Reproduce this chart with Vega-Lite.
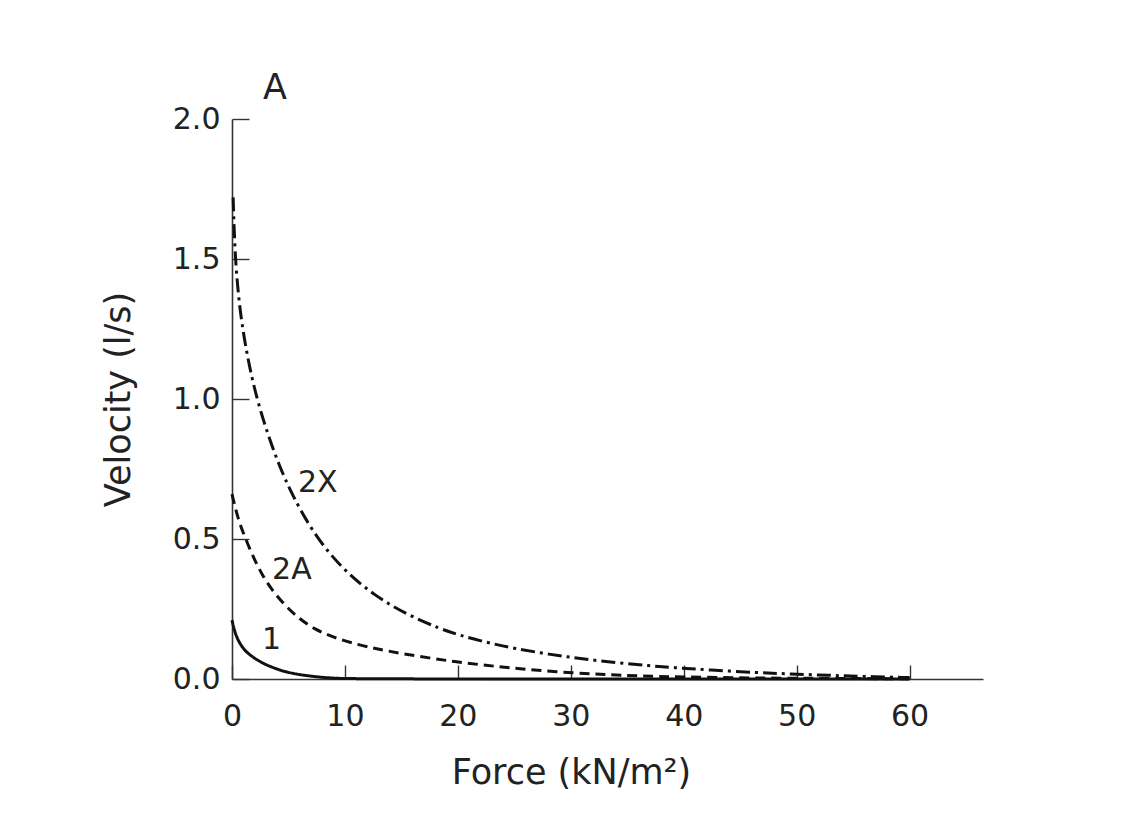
{
  "$schema": "https://vega.github.io/schema/vega-lite/v6.json",
  "autosize": {"type": "none"},
  "padding": {"left": 232, "top": 119, "right": 145, "bottom": 157},
  "width": 751,
  "height": 560,
  "background": "white",
  "config": {
    "view": {"stroke": null},
    "font": "DejaVu Sans",
    "axis": {"grid": false, "domainColor": "#333333", "domainWidth": 1.6, "tickColor": "#333333", "tickWidth": 1.4, "labelColor": "#222222", "titleColor": "#222222", "labelFont": "DejaVu Sans", "titleFont": "DejaVu Sans", "labelFontWeight": "normal", "titleFontWeight": "normal"}
  },
  "layer": [
    {
      "data": {"values": [
        {"series": "1", "x": 0, "v": 0.21}, {"series": "1", "x": 0.2, "v": 0.175}, {"series": "1", "x": 0.5, "v": 0.14}, {"series": "1", "x": 1, "v": 0.108}, {"series": "1", "x": 1.5, "v": 0.088}, {"series": "1", "x": 2.3, "v": 0.066}, {"series": "1", "x": 3, "v": 0.051}, {"series": "1", "x": 4, "v": 0.035}, {"series": "1", "x": 4.7, "v": 0.026}, {"series": "1", "x": 6, "v": 0.015}, {"series": "1", "x": 7.6, "v": 0.007}, {"series": "1", "x": 9, "v": 0.003}, {"series": "1", "x": 10, "v": 0.001}, {"series": "1", "x": 20, "v": 0}, {"series": "1", "x": 30, "v": 0}, {"series": "1", "x": 40, "v": 0}, {"series": "1", "x": 50, "v": 0}, {"series": "1", "x": 60, "v": 0},
        {"series": "2A", "x": 0, "v": 0.66}, {"series": "2A", "x": 0.3, "v": 0.61}, {"series": "2A", "x": 0.6, "v": 0.565}, {"series": "2A", "x": 1.2, "v": 0.5}, {"series": "2A", "x": 2, "v": 0.425}, {"series": "2A", "x": 2.7, "v": 0.37}, {"series": "2A", "x": 3.5, "v": 0.32}, {"series": "2A", "x": 4.7, "v": 0.262}, {"series": "2A", "x": 6, "v": 0.214}, {"series": "2A", "x": 7.3, "v": 0.178}, {"series": "2A", "x": 9, "v": 0.148}, {"series": "2A", "x": 11.2, "v": 0.122}, {"series": "2A", "x": 13, "v": 0.106}, {"series": "2A", "x": 15, "v": 0.091}, {"series": "2A", "x": 17.5, "v": 0.075}, {"series": "2A", "x": 19.7, "v": 0.062}, {"series": "2A", "x": 22, "v": 0.051}, {"series": "2A", "x": 24.3, "v": 0.041}, {"series": "2A", "x": 27, "v": 0.031}, {"series": "2A", "x": 30.2, "v": 0.022}, {"series": "2A", "x": 33, "v": 0.016}, {"series": "2A", "x": 36, "v": 0.011}, {"series": "2A", "x": 40, "v": 0.007}, {"series": "2A", "x": 45, "v": 0.004}, {"series": "2A", "x": 50, "v": 0.0025}, {"series": "2A", "x": 55, "v": 0.0015}, {"series": "2A", "x": 60, "v": 0.001},
        {"series": "2X", "x": 0.1, "v": 1.72}, {"series": "2X", "x": 0.27, "v": 1.5}, {"series": "2X", "x": 0.7, "v": 1.31}, {"series": "2X", "x": 1.4, "v": 1.14}, {"series": "2X", "x": 2.2, "v": 1.0}, {"series": "2X", "x": 3.2, "v": 0.87}, {"series": "2X", "x": 4.2, "v": 0.76}, {"series": "2X", "x": 5.3, "v": 0.66}, {"series": "2X", "x": 7.2, "v": 0.52}, {"series": "2X", "x": 9.7, "v": 0.395}, {"series": "2X", "x": 12.7, "v": 0.295}, {"series": "2X", "x": 15.6, "v": 0.228}, {"series": "2X", "x": 18.4, "v": 0.18}, {"series": "2X", "x": 20, "v": 0.158}, {"series": "2X", "x": 22.6, "v": 0.13}, {"series": "2X", "x": 25, "v": 0.109}, {"series": "2X", "x": 28.1, "v": 0.088}, {"series": "2X", "x": 31, "v": 0.072}, {"series": "2X", "x": 34.1, "v": 0.058}, {"series": "2X", "x": 37, "v": 0.047}, {"series": "2X", "x": 39, "v": 0.041}, {"series": "2X", "x": 42.3, "v": 0.032}, {"series": "2X", "x": 46.5, "v": 0.023}, {"series": "2X", "x": 49.4, "v": 0.018}, {"series": "2X", "x": 53, "v": 0.013}, {"series": "2X", "x": 56, "v": 0.009}, {"series": "2X", "x": 60, "v": 0.005}
      ]},
      "mark": {"type": "line", "color": "#111111", "strokeWidth": 3, "interpolate": "basis", "clip": false},
      "encoding": {
        "x": {"field": "x", "type": "quantitative", "scale": {"domain": [0, 66.5], "nice": false, "zero": false},
          "axis": {"values": [0, 10, 20, 30, 40, 50, 60], "tickSize": -14, "labelPadding": 36, "labelFontSize": 30, "title": "Force (kN/m²)", "titleFontSize": 35, "titlePadding": 24, "titleX": 339, "labelFlush": false}},
        "y": {"field": "v", "type": "quantitative", "scale": {"domain": [0, 2], "nice": false},
          "axis": {"values": [0, 0.5, 1, 1.5, 2], "format": ".1f", "tickSize": -17, "labelPadding": 29, "labelFontSize": 30, "title": "Velocity (l/s)", "titleFontSize": 35, "titlePadding": 36}},
        "strokeDash": {"field": "series", "type": "nominal", "scale": {"domain": ["1", "2A", "2X"], "range": [[1, 0], [10, 6], [14, 5, 3, 5]]}, "legend": null},
        "detail": {"field": "series"}
      }
    },
    {
      "data": {"values": [
        {"label": "2X", "x": 7.6, "v": 0.7},
        {"label": "2A", "x": 5.3, "v": 0.39},
        {"label": "1", "x": 3.5, "v": 0.14}
      ]},
      "mark": {"type": "text", "fontSize": 30, "font": "DejaVu Sans", "color": "#222222", "align": "center", "baseline": "middle", "clip": false},
      "encoding": {
        "x": {"field": "x", "type": "quantitative"},
        "y": {"field": "v", "type": "quantitative"},
        "text": {"field": "label"}
      }
    },
    {
      "data": {"values": [{"label": "A", "x": 3.8, "v": 2.11}]},
      "mark": {"type": "text", "fontSize": 35, "font": "DejaVu Sans", "color": "#222222", "align": "center", "baseline": "middle", "clip": false},
      "encoding": {
        "x": {"field": "x", "type": "quantitative"},
        "y": {"field": "v", "type": "quantitative"},
        "text": {"field": "label"}
      }
    }
  ]
}
